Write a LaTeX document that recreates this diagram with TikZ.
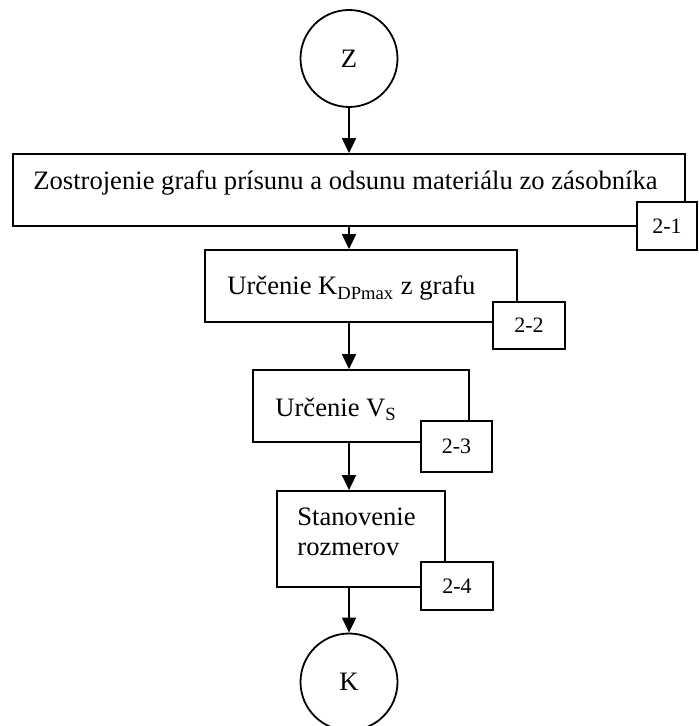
\documentclass[tikz,border=0pt]{standalone}
\usepackage{fontspec}
\setmainfont{Liberation Serif}
\usepackage{tikz}
\usetikzlibrary{arrows.meta, positioning}

\begin{document}
\begin{tikzpicture}[x=0.5pt, y=-0.5pt, font=\fontsize{13.3}{15}\selectfont]
\tikzstyle{kruh}=[circle, minimum size = 48.5pt, inner sep=0pt, line width=0.9pt, draw=black]
\tikzstyle{blok}=[rectangle, inner sep=0pt, line width=0.9pt, draw=black]
\tikzstyle{cislo}=[rectangle, inner sep=0pt, line width=0.9pt, draw=black, fill=white, font=\fontsize{11}{13}\selectfont]
\tikzstyle{txt}=[inner sep=0pt, anchor=base west, align=left]
\tikzstyle{sipka}=[-{Triangle[length=7.5pt, width=7pt]}, line width=0.9pt]
\useasboundingbox (0,0) rectangle (698,726);
% zaciatok a koniec
\node[kruh] (z) at (349, 58.5) {Z};
\node[kruh] (k) at (349, 682) {K};
% bloky
\node[blok, minimum width=336pt, minimum height=36pt] (b1) at (349, 190) {};
\node[blok, minimum width=156pt, minimum height=36pt] (b2) at (361, 286) {};
\node[blok, minimum width=108pt, minimum height=36pt] (b3) at (361, 406) {};
\node[blok, minimum width=84pt, minimum height=48pt] (b4) at (361, 539) {};
\node[txt] (t1) at (33, 190) {Zostrojenie grafu prísunu a odsunu materiálu zo zásobníka};
\node[txt] (t2) at (227, 295) {Určenie K\textsubscript{DPmax} z grafu};
\node[txt] (t3) at (275, 416) {Určenie V\textsubscript{S}};
\node[txt] (t4) at (297, 555) {Stanovenie\\rozmerov};
% cisla krokov
\node[cislo, minimum width=30pt, minimum height=24pt] (c1) at (667, 226) {2-1};
\node[cislo, minimum width=36pt, minimum height=23.5pt] (c2) at (529, 325.5) {2-2};
\node[cislo, minimum width=35.5pt, minimum height=25.5pt] (c3) at (456.5, 446.5) {2-3};
\node[cislo, minimum width=36pt, minimum height=24pt] (c4) at (457, 586) {2-4};
% sipky
\draw[sipka] (z) -- (b1);
\draw[sipka] (b1.south -| z) -- (b2.north -| z);
\draw[sipka] (b2.south -| z) -- (b3.north -| z);
\draw[sipka] (b3.south -| z) -- (b4.north -| z);
\draw[sipka] (b4.south -| z) -- (k);
\end{tikzpicture}
\end{document}
